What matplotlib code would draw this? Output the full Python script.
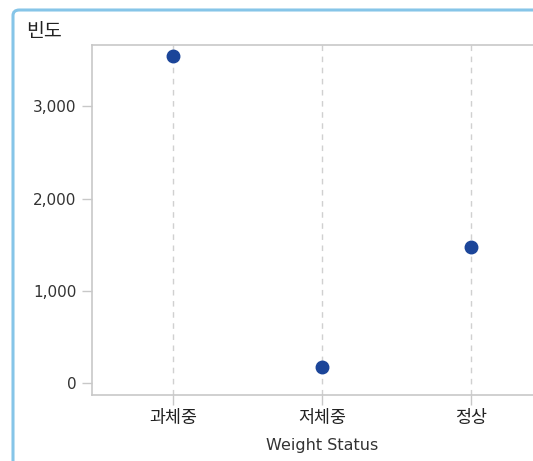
import matplotlib
matplotlib.use("Agg")
import matplotlib.pyplot as plt
from matplotlib.patches import FancyBboxPatch
from matplotlib.ticker import FuncFormatter

plt.rcParams['font.family'] = ['DejaVu Sans', 'Noto Sans CJK KR']

# data
categories = ['과체중', '저체중', '정상']
counts = [3550, 180, 1475]
y_ticks = [0, 1000, 2000, 3000]

TEXT = '#333333'
AXIS = '#c8c8c8'
DOT = '#1b4599'

fig = plt.figure(figsize=(5.33, 4.61), dpi=100)

# light blue panel frame, running off the right and bottom edges
frame = FancyBboxPatch((13 / 533, -0.1), 1.2, (461 - 10) / 461 + 0.1,
                       boxstyle="round,pad=0,rounding_size=0.012",
                       transform=fig.transFigure, facecolor='none',
                       edgecolor='#86c5e8', linewidth=2.2, zorder=-1)
fig.patches.append(frame)

ax = fig.add_axes([92 / 533, 66 / 461, 1 - 92 / 533, (395 - 45) / 461])
ax.set_facecolor('none')

x = list(range(len(categories)))
for xi in x:
    ax.axvline(xi, color='#d0d0d0', lw=1, ls=(0, (4, 4)), zorder=1)
ax.plot(x, counts, 'o', color=DOT, markersize=9, zorder=3, clip_on=False)

ax.set_xlim(-0.544, 2.416)
ax.set_ylim(-125, 3666)
ax.set_xticks(x)
ax.set_xticklabels(categories)
ax.set_yticks(y_ticks)
ax.yaxis.set_major_formatter(FuncFormatter(lambda v, p: f'{int(v):,}'))

for s in ['left', 'bottom', 'top']:
    ax.spines[s].set_color(AXIS)
    ax.spines[s].set_linewidth(1.2)
ax.spines['right'].set_visible(False)
ax.tick_params(axis='both', colors=AXIS, length=7, width=1)
ax.tick_params(axis='y', pad=4, labelcolor=TEXT, labelsize=11)
ax.tick_params(axis='x', pad=3, labelcolor='#222222', labelsize=12.5)

fig.text(26 / 533, 1 - 32 / 461, '빈도', fontsize=14, color='#222222',
         va='center', ha='left')
ax.text(1, -0.145, 'Weight Status', transform=ax.get_xaxis_transform(),
        fontsize=11.5, color=TEXT, ha='center', va='center')

fig.savefig('out.png', dpi=100)
